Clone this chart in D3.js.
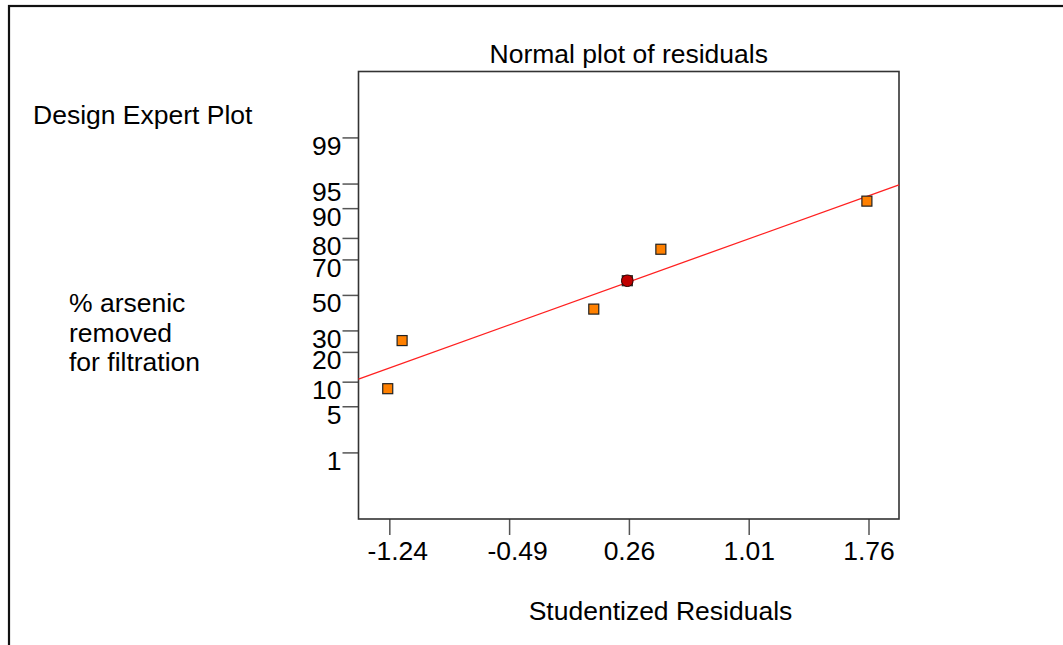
<!DOCTYPE html>
<html>
<head>
<meta charset="utf-8">
<script src="https://cdn.jsdelivr.net/npm/d3@7"></script>
<style>
  html, body { margin: 0; padding: 0; background: #fff; }
  svg { display: block; }
  text { font-family: "Liberation Sans", Arial, sans-serif; fill: #000; }
</style>
</head>
<body>
<svg id="chart" width="1063" height="645"></svg>
<script>
// ---- data ----
const residuals = [-1.25, -1.16, 0.04, 0.25, 0.46, 1.75];
const probabilities = [8.3, 25, 41.7, 58.3, 75, 91.7];
const highlightIndex = 3;
const fitLineX = [-1.433, 1.951];
const fitLineP = [10.7, 94.8];
const xTickValues = [-1.24, -0.49, 0.26, 1.01, 1.76];
const xTickLabels = ["-1.24", "-0.49", "0.26", "1.01", "1.76"];
const yTickValues = [1, 5, 10, 20, 30, 50, 70, 80, 90, 95, 99];
const titleText = "Normal plot of residuals";
const xAxisTitle = "Studentized Residuals";
const headerText = "Design Expert Plot";
const yAxisTitleLines = ["% arsenic", "removed", "for filtration"];

// inverse normal CDF (Acklam)
function probit(p) {
  const a = [-3.969683028665376e+01, 2.209460984245205e+02, -2.759285104469687e+02, 1.383577518672690e+02, -3.066479806614716e+01, 2.506628277459239e+00];
  const b = [-5.447609879822406e+01, 1.615858368580409e+02, -1.556989798598866e+02, 6.680131188771972e+01, -1.328068155288572e+01];
  const c = [-7.784894002430293e-03, -3.223964580411365e-01, -2.400758277161838e+00, -2.549732539343734e+00, 4.374664141464968e+00, 2.938163982698783e+00];
  const d = [7.784695709041462e-03, 3.224671290700398e-01, 2.445134137142996e+00, 3.754408661907416e+00];
  const pl = 0.02425, ph = 1 - pl;
  let q, r;
  if (p < pl) {
    q = Math.sqrt(-2 * Math.log(p));
    return (((((c[0]*q+c[1])*q+c[2])*q+c[3])*q+c[4])*q+c[5]) / ((((d[0]*q+d[1])*q+d[2])*q+d[3])*q+1);
  } else if (p <= ph) {
    q = p - 0.5; r = q * q;
    return (((((a[0]*r+a[1])*r+a[2])*r+a[3])*r+a[4])*r+a[5])*q / (((((b[0]*r+b[1])*r+b[2])*r+b[3])*r+b[4])*r+1);
  } else {
    q = Math.sqrt(-2 * Math.log(1 - p));
    return -(((((c[0]*q+c[1])*q+c[2])*q+c[3])*q+c[4])*q+c[5]) / ((((d[0]*q+d[1])*q+d[2])*q+d[3])*q+1);
  }
}

const svg = d3.select("#chart");
const W = 1063, H = 645;
const plot = { left: 358.5, right: 899, top: 71.5, bottom: 519 };
const fontSize = 26.5;

// outer frame (extends past right/bottom)
svg.append("rect")
  .attr("x", 9).attr("y", 6).attr("width", W + 20).attr("height", H + 20)
  .attr("fill", "none").attr("stroke", "#111").attr("stroke-width", 2.2);

const x = d3.scaleLinear().domain([-1.433, 1.951]).range([plot.left, plot.right]);
const zScale = d3.scaleLinear().domain([-3.31, 3.30]).range([plot.bottom, plot.top]);
const y = p => zScale(probit(p / 100));

// axes
const xAxis = d3.axisBottom(x).tickValues(xTickValues).tickSize(16)
  .tickFormat((d, i) => xTickLabels[i]);
const gx = svg.append("g").attr("transform", `translate(0,${plot.bottom})`).call(xAxis);
gx.select(".domain").remove();
gx.selectAll(".tick line").attr("stroke", "#555").attr("stroke-width", 1.5);
gx.selectAll(".tick text")
  .attr("font-size", fontSize).attr("font-family", "Liberation Sans, Arial, sans-serif")
  .attr("fill", "#000").attr("y", 22).attr("dy", "0.71em")
  .attr("dx", d => d < 0 ? 8 : 0);

const yAxis = d3.axisLeft(zScale).tickValues(yTickValues.map(p => probit(p / 100)))
  .tickSize(16).tickFormat((d, i) => String(yTickValues[i]));
const gy = svg.append("g").attr("transform", `translate(${plot.left},0)`).call(yAxis);
gy.select(".domain").remove();
gy.selectAll(".tick line").attr("stroke", "#555").attr("stroke-width", 1.5);
gy.selectAll(".tick text")
  .attr("font-size", fontSize).attr("font-family", "Liberation Sans, Arial, sans-serif")
  .attr("fill", "#000").attr("x", -17).attr("dy", "0.64em");

// plot box
svg.append("rect")
  .attr("x", plot.left).attr("y", plot.top)
  .attr("width", plot.right - plot.left).attr("height", plot.bottom - plot.top)
  .attr("fill", "none").attr("stroke", "#333").attr("stroke-width", 1.6);

// fit line
svg.append("line")
  .attr("x1", x(fitLineX[0])).attr("y1", y(fitLineP[0]))
  .attr("x2", x(fitLineX[1])).attr("y2", y(fitLineP[1]))
  .attr("stroke", "#ff2020").attr("stroke-width", 1.3);

// points
const pts = residuals.map((r, i) => ({ r, p: probabilities[i], i }));
svg.append("g").selectAll("rect").data(pts).join("rect")
  .attr("x", d => x(d.r) - 5).attr("y", d => y(d.p) - 5)
  .attr("width", 10).attr("height", 10)
  .attr("fill", "#ff8000").attr("stroke", "#222").attr("stroke-width", 1.2);
svg.append("g").selectAll("circle").data(pts.filter(d => d.i === highlightIndex)).join("circle")
  .attr("cx", d => x(d.r)).attr("cy", d => y(d.p)).attr("r", 5.8)
  .attr("fill", "#c00000").attr("stroke", "#300").attr("stroke-width", 1);

// texts
svg.append("text").attr("x", (plot.left + plot.right) / 2).attr("y", 63)
  .attr("text-anchor", "middle").attr("font-size", fontSize).text(titleText);
svg.append("text").attr("x", 33).attr("y", 124)
  .attr("font-size", fontSize).text(headerText);
yAxisTitleLines.forEach((t, i) => {
  svg.append("text").attr("x", 69).attr("y", 312 + i * 29.7)
    .attr("font-size", fontSize).text(t);
});
svg.append("text").attr("x", 660.5).attr("y", 620)
  .attr("text-anchor", "middle").attr("font-size", fontSize).text(xAxisTitle);
</script>
</body>
</html>
